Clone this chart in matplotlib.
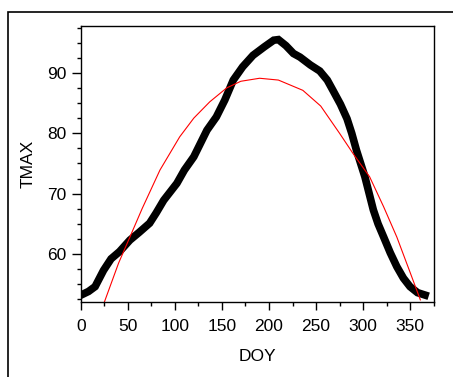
import matplotlib
matplotlib.use("Agg")
import matplotlib.pyplot as plt
import matplotlib.ticker as mtick
from matplotlib.patches import Rectangle

plt.rcParams["font.family"] = ["Liberation Sans", "DejaVu Sans"]

obs_doy = [0, 8, 15, 24, 32, 41, 52, 62, 73, 80, 88, 95, 102, 110, 120, 134,
           144, 153, 162, 172, 183, 195, 205, 210, 218, 226, 233, 244, 254,
           262, 268, 276, 283, 288, 293, 302, 311, 316, 322, 329, 336, 343,
           350, 358, 366]
obs_tmax = [53.2, 53.8, 54.6, 57.3, 59.2, 60.4, 62.3, 63.6, 65.1, 66.8, 68.9,
            70.3, 71.7, 73.9, 76.1, 80.5, 82.7, 85.5, 88.8, 91.0, 92.9, 94.3,
            95.4, 95.5, 94.5, 93.2, 92.6, 91.3, 90.3, 88.8, 87.1, 84.8, 82.4,
            80.0, 77.2, 72.8, 67.3, 65.0, 62.8, 60.2, 57.9, 56.0, 54.6, 53.6,
            53.2]

# fitted curve
fit_doy = [25, 40, 52, 65, 84, 105, 120, 137, 155, 170, 190, 210, 236, 255,
           275, 290, 307, 322, 336, 350, 361]
fit_tmax = [52.1, 58.5, 62.8, 67.5, 73.9, 79.4, 82.5, 85.2, 87.5, 88.6, 89.1,
            88.8, 87.1, 84.5, 80.0, 76.5, 72.8, 67.8, 62.8, 57.0, 52.4]

fig = plt.figure(figsize=(4.53, 3.77), dpi=100)
ax = fig.add_axes([0.1788, 0.1997, 0.7792, 0.7321])

# outer frame
fig.patches.append(Rectangle((8 / 453, -0.1), 1.2, 365 / 377 + 0.1,
                             transform=fig.transFigure, fill=False,
                             edgecolor="k", linewidth=1.2))

ax.plot(obs_doy, obs_tmax, color="k", linewidth=5.5, solid_joinstyle="miter")
ax.plot(fit_doy, fit_tmax, color="red", linewidth=0.8)

ax.set_xlim(0, 375.5)
ax.set_ylim(52.1, 97.8)
ax.xaxis.set_major_locator(mtick.MultipleLocator(50))
ax.xaxis.set_minor_locator(mtick.MultipleLocator(25))
ax.yaxis.set_major_locator(mtick.MultipleLocator(10))
ax.yaxis.set_minor_locator(mtick.MultipleLocator(2.5))
ax.tick_params(which="major", length=6.2, width=1.0, labelsize=12.5)
ax.tick_params(axis="x", which="major", length=5.8, pad=7)
ax.tick_params(axis="y", which="major", pad=4.5)
ax.tick_params(which="minor", length=3, width=1.0)
for s in ax.spines.values():
    s.set_linewidth(1.0)

ax.set_xlabel("DOY", fontsize=12.5, va="center")
ax.set_ylabel("TMAX", fontsize=12.5, va="center")
ax.xaxis.set_label_coords(0.5, (301.7 - 356) / 276)
ax.yaxis.set_label_coords((28 - 81) / 353, 0.5)

fig.savefig("out.png", dpi=100)
